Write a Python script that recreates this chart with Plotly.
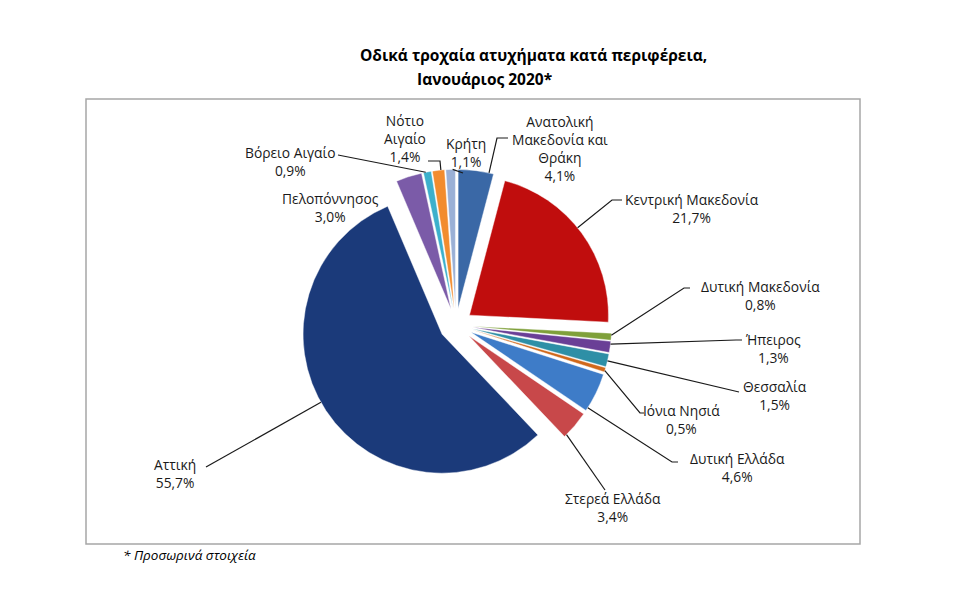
import math
import plotly.graph_objects as go

# ---------------- data ----------------
regions = ["Ανατολική Μακεδονία και Θράκη", "Κεντρική Μακεδονία", "Δυτική Μακεδονία",
           "Ήπειρος", "Θεσσαλία", "Ιόνια Νησιά", "Δυτική Ελλάδα", "Στερεά Ελλάδα",
           "Αττική", "Πελοπόννησος", "Βόρειο Αιγαίο", "Νότιο Αιγαίο", "Κρήτη"]
label_names = ["Ανατολική<br>Μακεδονία και<br>Θράκη", "Κεντρική Μακεδονία", "Δυτική Μακεδονία",
               "Ήπειρος", "Θεσσαλία", "Ιόνια Νησιά", "Δυτική Ελλάδα", "Στερεά Ελλάδα",
               "Αττική", "Πελοπόννησος", "Βόρειο Αιγαίο", "Νότιο<br>Αιγαίο", "Κρήτη"]
shares = [4.1, 21.7, 0.8, 1.3, 1.5, 0.5, 4.6, 3.4, 55.7, 3.0, 0.9, 1.4, 1.1]
colors = ["#3A68A6", "#C00D0D", "#7FA03A", "#6A3F96", "#2E8FA6", "#D0681A", "#3E7CC8",
          "#C8484A", "#1B3A7A", "#7B5BA8", "#3CB0CC", "#F28C2E", "#9AB0D6"]

title_line1 = "Οδικά τροχαία ατυχήματα κατά περιφέρεια,"
title_line2 = "Ιανουάριος 2020*"
footnote = "* Προσωρινά στοιχεία"

# ---------------- layout geometry (pixels) ----------------
W, H = 971, 595
CX, CY, R, PULL = 456, 325, 139, 0.12
FONT = "Open Sans"

# text centres and leader-line points (text side first; last point joins the slice)
label_pos = [(560, 148), (692, 208), (760, 295), (773, 348), (775, 395), (681, 419),
             (737, 467), (613, 507), (175, 474), (330, 207), (290, 162), (405, 138), (466, 153)]
leader_pts = [[(508, 138), (497, 138)], [(622, 200), (612, 200)], [(690, 288), (684, 288)],
              [(742, 340), (736, 340)], [(739, 392)], [(644, 413), (640, 413)],
              [(678, 462), (672, 462)], [(605, 490)], [(206, 467)], [],
              [(338, 155)], [(428, 161), (440, 161)], [(463, 173)]]


def px(x):
    return x / W


def py(y):
    return 1 - y / H


half = R * (1 + PULL)
fig = go.Figure()
fig.add_trace(go.Pie(
    labels=regions, values=shares, sort=False, direction="clockwise", rotation=0,
    marker=dict(colors=colors, line=dict(color="rgba(255,255,255,0.7)", width=0.6)),
    pull=[PULL] * len(shares), textinfo="none", hoverinfo="label+percent",
    domain=dict(x=[px(CX - half), px(CX + half)], y=[py(CY + half), py(CY - half)]),
    showlegend=False,
))

annotations = []
shapes = []

# slice angular ranges from data
total = sum(shares)
cum = 0.0
for i, v in enumerate(shares):
    a0 = cum / total * 2 * math.pi
    cum += v
    a1 = cum / total * 2 * math.pi
    m = (a0 + a1) / 2
    pct = f"{v:.1f}".replace(".", ",") + "%"
    tx, ty = label_pos[i]
    annotations.append(dict(
        x=px(tx), y=py(ty), xref="paper", yref="paper", showarrow=False,
        text=f"{label_names[i]}<br>{pct}", xanchor="center", yanchor="middle",
        font=dict(family=FONT, size=13.8, color="#1a1a1a"), align="center"))
    pts = leader_pts[i]
    if pts:
        ox = CX + PULL * R * math.sin(m)
        oy = CY - PULL * R * math.cos(m)
        ax, ay = pts[-1]
        ang = math.atan2(ax - ox, -(ay - oy))
        diff = (ang - m + math.pi) % (2 * math.pi) - math.pi
        hw = (a1 - a0) / 2
        lim = max(hw - min(0.3 * (a1 - a0), 0.02), 0)
        diff = max(-lim, min(lim, diff))
        ea = m + diff
        ex = ox + R * math.sin(ea)
        ey = oy - R * math.cos(ea)
        allp = pts + [(ex, ey)]
        path = "M " + " L ".join(f"{px(x):.5f},{py(y):.5f}" for x, y in allp)
        shapes.append(dict(type="path", path=path, xref="paper", yref="paper",
                           line=dict(color="#1a1a1a", width=1.2)))

# chart border
shapes.append(dict(type="rect", xref="paper", yref="paper",
                   x0=px(86), x1=px(860), y0=py(544), y1=py(99),
                   line=dict(color="#A6A6A6", width=1.5), layer="below"))

annotations += [
    dict(x=px(533), y=py(55), xref="paper", yref="paper", showarrow=False,
         text=f"<b>{title_line1}</b>", font=dict(family=FONT, size=15.5, color="#000"),
         xanchor="center", yanchor="middle"),
    dict(x=px(484), y=py(79), xref="paper", yref="paper", showarrow=False,
         text=f"<b>{title_line2}</b>", font=dict(family=FONT, size=15.5, color="#000"),
         xanchor="center", yanchor="middle"),
    dict(x=px(121), y=py(555), xref="paper", yref="paper", showarrow=False,
         text=f"<i>{footnote}</i>", font=dict(family=FONT, size=13.5, color="#000"),
         xanchor="left", yanchor="middle"),
]

fig.update_layout(width=W, height=H, margin=dict(l=0, r=0, t=0, b=0),
                  paper_bgcolor="white", plot_bgcolor="white",
                  annotations=annotations, shapes=shapes)

fig.write_html("out.html", config={"displayModeBar": False},
               post_script="document.body.style.margin='0';")
